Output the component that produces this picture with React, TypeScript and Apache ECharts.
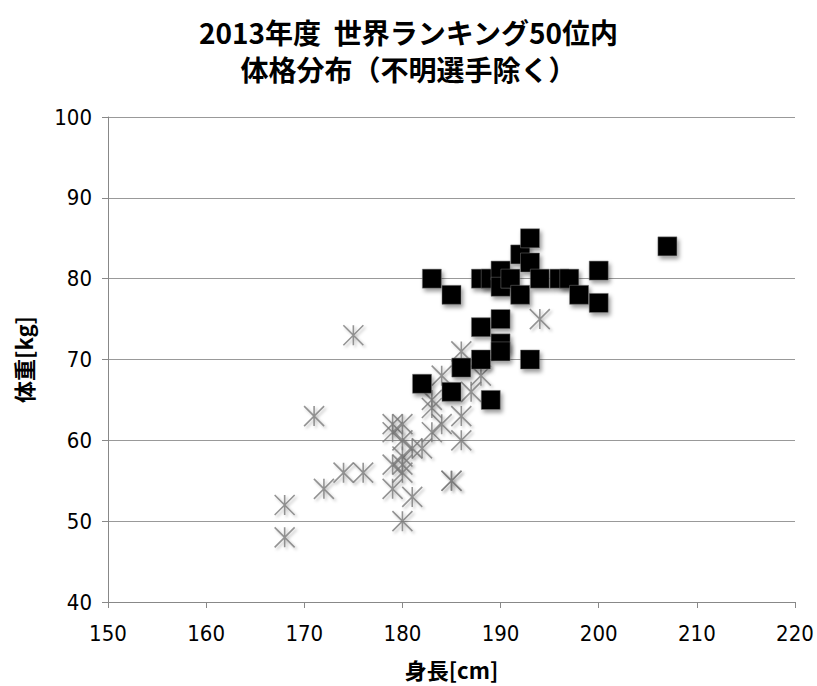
import React, { useEffect, useRef } from "react";
import * as echarts from "echarts";

const titleLine1 = "2013年度  世界ランキング50位内";
const titleLine2 = "体格分布（不明選手除く）";
const xName = "身長[cm]";
const yName = "体重[kg]";

// Squares (black)
const squareHeights = [183, 185, 188, 189, 190, 190, 191, 192, 193, 193, 192, 194, 196, 197, 198, 200, 200, 207, 188, 190, 190, 190, 188, 193, 186, 182, 185, 189];
const squareWeights = [80, 78, 80, 80, 81, 79, 80, 83, 85, 82, 78, 80, 80, 80, 78, 81, 77, 84, 74, 75, 72, 71, 70, 70, 69, 67, 66, 65];

// Asterisks (gray)
const starHeights = [168, 168, 171, 172, 174, 175, 176, 179, 180, 179, 180, 181, 180, 179, 180, 180, 179, 181, 180, 182, 183, 184, 183, 183, 184, 186, 186, 186, 185, 187, 188, 194, 185];
const starWeights = [52, 48, 63, 54, 56, 73, 56, 62, 62, 61, 60, 59, 58, 57, 57, 56, 54, 53, 50, 59, 61, 62, 64, 65, 68, 71, 63, 60, 55, 66, 68, 75, 55];

const starPath = "path://M10,0L10,20M0,0L20,20M20,0L0,20";

export default function App() {
  const ref = useRef<HTMLDivElement>(null);
  useEffect(() => {
    document.body.style.margin = "0";
    const chart = echarts.init(ref.current!, null, { renderer: "svg" });
    const tickFont = "'Liberation Sans Narrow', 'DejaVu Sans Condensed', 'Open Sans', sans-serif";
    const cjk = "'Noto Sans CJK JP', sans-serif";
    const titleStyle = {
      fontSize: 28,
      fontWeight: "bold",
      fontFamily: cjk,
      color: "#000",
    };
    chart.setOption({
      animation: false,
      backgroundColor: "#fff",
      title: [
        { text: titleLine1, left: "center", top: 18, padding: 0, textStyle: titleStyle },
        { text: titleLine2, left: "center", top: 55, padding: 0, textStyle: titleStyle },
      ],
      grid: { left: 108, right: 22, top: 117, bottom: 84 },
      xAxis: {
        type: "value",
        min: 150,
        max: 220,
        interval: 10,
        name: xName,
        nameLocation: "middle",
        nameGap: 56,
        nameTextStyle: { fontSize: 22, fontWeight: "bold", color: "#000", fontFamily: cjk },
        axisLine: { show: true, onZero: false, lineStyle: { color: "#888", width: 1 } },
        axisTick: { show: true, length: 6, lineStyle: { color: "#888" } },
        axisLabel: { fontSize: 22, color: "#000", margin: 20, fontFamily: tickFont },
        splitLine: { show: false },
      },
      yAxis: {
        type: "value",
        min: 40,
        max: 100,
        interval: 10,
        name: yName,
        nameLocation: "middle",
        nameGap: 74,
        nameRotate: 90,
        nameTextStyle: { fontSize: 22, fontWeight: "bold", color: "#000", fontFamily: cjk },
        axisLine: { show: true, lineStyle: { color: "#888", width: 1 } },
        axisTick: { show: true, length: 6, lineStyle: { color: "#888" } },
        axisLabel: { fontSize: 22, color: "#000", margin: 16, fontFamily: tickFont },
        splitLine: { show: true, lineStyle: { color: "#999", width: 1 } },
      },
      series: [
        {
          type: "scatter",
          data: starHeights.map((h, i) => [h, starWeights[i]]),
          symbol: starPath,
          symbolSize: 20,
          itemStyle: {
            color: "none",
            borderColor: "#7a7a7a",
            borderWidth: 1.6,
            shadowBlur: 3,
            shadowColor: "rgba(0,0,0,0.3)",
            shadowOffsetX: 2,
            shadowOffsetY: 2,
          },
          z: 2,
        },
        {
          type: "scatter",
          data: squareHeights.map((h, i) => [h, squareWeights[i]]),
          symbol: "rect",
          symbolSize: 19,
          itemStyle: {
            color: "#000",
            opacity: 1,
            borderColor: "#777",
            borderWidth: 0.5,
            shadowBlur: 4,
            shadowColor: "rgba(0,0,0,0.4)",
            shadowOffsetX: 2,
            shadowOffsetY: 3,
          },
          z: 3,
        },
      ],
    });
    return () => chart.dispose();
  }, []);
  return <div ref={ref} style={{ width: 817, height: 686 }} />;
}
